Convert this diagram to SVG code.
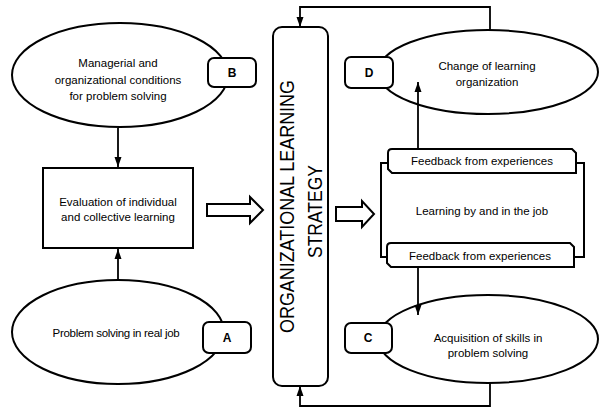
<svg xmlns="http://www.w3.org/2000/svg" width="599" height="410" viewBox="0 0 599 410">
  <style>
    .shape { fill: #fff; stroke: #000; stroke-width: 2; }
    .wire { fill: none; stroke: #000; stroke-width: 1.8; }
    .txt { font-family: "Liberation Sans", Arial, sans-serif; font-size: 11.5px; fill: #000; text-anchor: middle; }
    .tag { font-family: "Liberation Sans", Arial, sans-serif; font-size: 12px; font-weight: bold; fill: #000; text-anchor: middle; }
    .big { font-family: "Liberation Sans", Arial, sans-serif; font-size: 21px; fill: #000; text-anchor: middle; }
  </style>
  <defs>
    <marker id="head" markerUnits="userSpaceOnUse" markerWidth="10" markerHeight="10" viewBox="0 0 10 10" refX="10" refY="5" orient="auto">
      <path d="M0,1.5 L10,5 L0,8.5 Z" fill="#000"/>
    </marker>
  </defs>

  <rect width="599" height="410" fill="#fff"/>

  <!-- B: managerial conditions -->
  <g id="node-b">
    <ellipse class="shape" cx="120" cy="75" rx="108" ry="52"/>
    <text class="txt" x="118" y="67">Managerial and</text>
    <text class="txt" x="118" y="84">organizational conditions</text>
    <text class="txt" x="118" y="100">for problem solving</text>
    <rect class="shape" x="208" y="58" width="48" height="29" rx="6"/>
    <text class="tag" x="232" y="77">B</text>
  </g>

  <!-- evaluation box -->
  <g id="node-eval">
    <rect class="shape" x="43" y="168" width="150" height="80"/>
    <text class="txt" x="118" y="206">Evaluation of individual</text>
    <text class="txt" x="118" y="221">and collective learning</text>
  </g>

  <!-- A: problem solving -->
  <g id="node-a">
    <ellipse class="shape" cx="118" cy="332" rx="106" ry="52"/>
    <text class="txt" x="116" y="337" letter-spacing="-0.3">Problem solving in real job</text>
    <rect class="shape" x="203" y="322" width="48" height="31" rx="6"/>
    <text class="tag" x="227" y="342">A</text>
  </g>

  <!-- central strategy column -->
  <g id="node-strategy">
    <rect class="shape" x="273" y="27" width="55" height="359" rx="9"/>
    <text class="big" transform="translate(294,206.5) rotate(-90)" textLength="253" lengthAdjust="spacingAndGlyphs">ORGANIZATIONAL LEARNING</text>
    <text class="big" transform="translate(322,211.5) rotate(-90)" textLength="93" lengthAdjust="spacingAndGlyphs">STRATEGY</text>
  </g>

  <!-- D: change of organization -->
  <g id="node-d">
    <ellipse class="shape" cx="488" cy="72" rx="110" ry="42"/>
    <text class="txt" x="487" y="70">Change of learning</text>
    <text class="txt" x="487" y="86">organization</text>
    <rect class="shape" x="345" y="57" width="48" height="31" rx="6"/>
    <text class="tag" x="369" y="77">D</text>
  </g>

  <!-- learning by and in the job -->
  <g id="node-learning">
    <rect class="shape" x="381" y="163" width="203" height="94"/>
    <text class="txt" x="482" y="215">Learning by and in the job</text>
    <path class="shape" d="M392,149 H572 L576,153 V173 H392 L388,169 V153 Q388,149 392,149 Z"/>
    <text class="txt" x="482" y="165">Feedback from experiences</text>
    <path class="shape" d="M391,243 H570 L574,247 V267 H391 L387,263 V247 Q387,243 391,243 Z"/>
    <text class="txt" x="480" y="260">Feedback from experiences</text>
  </g>

  <!-- C: acquisition of skills -->
  <g id="node-c">
    <ellipse class="shape" cx="488" cy="339" rx="110" ry="44"/>
    <text class="txt" x="488" y="342">Acquisition of skills in</text>
    <text class="txt" x="488" y="357">problem solving</text>
    <rect class="shape" x="345" y="323" width="47" height="30" rx="6"/>
    <text class="tag" x="368" y="342">C</text>
  </g>

  <!-- connectors, drawn over the nodes -->
  <g id="connectors">
    <line class="wire" x1="118" y1="128" x2="118" y2="167" marker-end="url(#head)"/>
    <line class="wire" x1="118" y1="280" x2="118" y2="249" marker-end="url(#head)"/>
    <path class="wire" d="M490,30 V7 H300 V27" marker-end="url(#head)"/>
    <path class="wire" d="M490,383 V406 H300 V386" marker-end="url(#head)"/>
    <line class="wire" x1="418" y1="149" x2="418" y2="82" marker-end="url(#head)"/>
    <line class="wire" x1="418" y1="267" x2="418" y2="315" marker-end="url(#head)"/>
    <!-- hollow block arrows -->
    <path class="shape" d="M207,204 H250 V197 L263,210 L250,223 V216 H207 Z"/>
    <path class="shape" d="M336,207 H362 V201 L374,214 L362,227 V221 H336 Z"/>
  </g>
</svg>
